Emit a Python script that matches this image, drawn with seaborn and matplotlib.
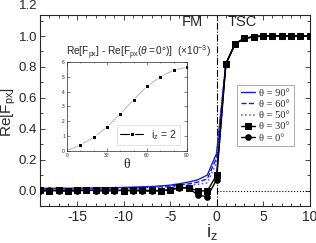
import numpy as np
import pandas as pd
import matplotlib
matplotlib.use("Agg")
import matplotlib.pyplot as plt
import seaborn as sns
from matplotlib.ticker import MultipleLocator

# ---------------- data ----------------
iz = list(range(-19, 11))
theta_labels = ["θ = 90°", "θ = 60°", "θ = 50°", "θ = 30°", "θ = 0°"]

tsc_tail = [0.82, 0.95, 0.985, 0.995, 1.0, 1.0, 1.0, 1.0, 1.0, 1.0]  # i_z = 1..10

re_90 = [0.014, 0.014, 0.015, 0.015, 0.016, 0.016, 0.017, 0.018, 0.019, 0.020,
         0.022, 0.024, 0.026, 0.030, 0.035, 0.044, 0.055, 0.070, 0.100, 0.24] + tsc_tail
re_60 = [0.010, 0.010, 0.011, 0.011, 0.012, 0.012, 0.013, 0.014, 0.015, 0.016,
         0.018, 0.020, 0.022, 0.025, 0.029, 0.035, 0.043, 0.055, 0.075, 0.21] + tsc_tail
re_50 = [0.008, 0.008, 0.009, 0.009, 0.010, 0.010, 0.011, 0.012, 0.013, 0.014,
         0.015, 0.016, 0.018, 0.021, 0.024, 0.028, 0.033, 0.040, 0.050, 0.18] + tsc_tail
re_30 = [0.002, 0.000, 0.002, -0.001, 0.001, 0.003, 0.001, 0.004, 0.002, 0.000,
         0.003, 0.002, 0.001, 0.000, 0.005, 0.020, 0.018, -0.002, -0.003, 0.10] + tsc_tail
re_0 = [-0.002, 0.001, -0.003, -0.004, -0.002, 0.002, 0.000, -0.004, -0.001, 0.002,
        -0.003, -0.002, -0.005, -0.001, 0.003, 0.018, 0.016, -0.030, -0.040, 0.07] + tsc_tail

inset_theta = [0, 10, 20, 30, 40, 50, 60, 70, 80, 90]
inset_diff = [0.0, 0.40, 0.90, 1.60, 2.50, 3.45, 4.35, 5.00, 5.45, 5.65]

x_ticks = [-15, -10, -5, 0, 5, 10]
y_ticks = [0.0, 0.2, 0.4, 0.6, 0.8, 1.0]
inset_xticks = [0, 30, 60, 90]
inset_yticks = [0, 1, 2, 3, 4, 5, 6]

# ---------------- figure ----------------
sns.set_theme(style="ticks")
plt.rcParams["font.family"] = ["Liberation Sans", "DejaVu Sans"]
plt.rcParams["mathtext.fontset"] = "custom"
plt.rcParams["mathtext.rm"] = "Liberation Sans"
plt.rcParams["mathtext.it"] = "Liberation Sans:italic"

W, H = 316, 243
fig = plt.figure(figsize=(W / 100, H / 100), dpi=100)

def frac(x0, y0, x1, y1):
    return [x0 / W, 1 - y1 / H, (x1 - x0) / W, (y1 - y0) / H]

AX_L, AX_T, AX_R, AX_B = 40, 15, 309.5, 206
ax = fig.add_axes(frac(AX_L, AX_T, AX_R, AX_B))

df = pd.DataFrame({
    "iz": iz * 5,
    "val": re_90 + re_60 + re_50 + re_30 + re_0,
    "theta": sum([[t] * len(iz) for t in theta_labels], []),
})

styles = {
    "θ = 90°": dict(color="#1a1ad8", ls="-", marker=None, ms=0, lw=1.0),
    "θ = 60°": dict(color="#1a1ad8", ls="--", marker=None, ms=0, lw=1.0),
    "θ = 50°": dict(color="#4a4aff", ls=":", marker=None, ms=0, lw=1.1),
    "θ = 30°": dict(color="black", ls="-", marker="s", ms=4, lw=1.0),
    "θ = 0°": dict(color="black", ls="-", marker="o", ms=4, lw=1.0),
}
for t in theta_labels:
    s = styles[t]
    sub = df[df["theta"] == t]
    sns.lineplot(data=sub, x="iz", y="val", ax=ax, color=s["color"], linestyle=s["ls"],
                 marker=s["marker"], markersize=s["ms"], linewidth=s["lw"],
                 markeredgecolor="black", label=t, zorder=3 if s["marker"] else 2)

ax.axvline(0, color="black", ls="-.", lw=0.8, zorder=1)
ax.plot([0, 10], [0, 0], color="black", ls=":", lw=0.8, zorder=1)

ax.set_xlim(-19, 10)
ax.set_ylim(-0.1, 1.136)
ax.set_xticks(x_ticks)
ax.set_yticks(y_ticks)
ax.set_xticklabels([str(v) for v in x_ticks], fontsize=10)
ax.set_yticklabels([f"{v:.1f}" for v in y_ticks], fontsize=9.5)
ax.xaxis.set_minor_locator(MultipleLocator(1))
ax.yaxis.set_minor_locator(MultipleLocator(0.1))
ax.tick_params(which="both", direction="in", top=True, right=True, labelright=False,
               labeltop=False, width=0.6)
ax.tick_params(axis="y", pad=2)
ax.tick_params(axis="x", pad=3)
ax.tick_params(which="major", length=3.5)
ax.tick_params(which="minor", length=2)
for sp in ax.spines.values():
    sp.set_linewidth(0.8)
ax.set_xlabel(r"$\mathregular{i_z}$", fontsize=13)
ax.xaxis.set_label_coords((212 - AX_L) / (AX_R - AX_L), -0.085)
ax.set_ylabel(r"$\mathregular{Re[F_{px}]}$", fontsize=11)
ax.yaxis.set_label_coords(-0.081, 0.49)
# top label of the y axis, drawn just above the frame as in the original
ax.text(-0.01, 1.045, "1.2", transform=ax.transAxes, ha="right", va="center", fontsize=9.5,
        color="#262626")

ax.text(-1.45, 1.093, "FM", fontsize=10.5, ha="right", va="center")
ax.text(1.2, 1.093, "TSC", fontsize=10.5, ha="left", va="center")

leg = ax.legend(loc="upper left",
                bbox_to_anchor=((237 - AX_L) / (AX_R - AX_L), (AX_B - 85) / (AX_B - AX_T)),
                borderaxespad=0, frameon=True, fancybox=False, edgecolor="#888888",
                handlelength=1.4, handletextpad=0.4, borderpad=0.35, labelspacing=0.18,
                prop={"family": "Liberation Serif", "size": 7.5})
leg.get_frame().set_linewidth(0.6)

# ---------------- inset ----------------
IL, IT, IR, IB = 67, 62, 187, 150.7
axi = fig.add_axes(frac(IL, IT, IR, IB))
sns.lineplot(x=inset_theta[1:], y=inset_diff[1:], ax=axi, color="black", marker="s",
             markersize=2.2, linewidth=0, label=r"$\mathregular{i_z}$ = 2")
axi.plot(inset_theta, inset_diff, color="#aaaaaa", lw=0.6, zorder=1)
axi.set_xlim(0, 90)
axi.set_ylim(0, 6)
axi.set_xticks(inset_xticks)
axi.set_yticks(inset_yticks)
axi.set_xticklabels([str(v) for v in inset_xticks], fontsize=3.5)
axi.set_yticklabels([str(v) for v in inset_yticks], fontsize=3.5)
axi.xaxis.set_minor_locator(MultipleLocator(10))
axi.tick_params(which="both", direction="in", top=True, right=True, width=0.4, pad=1.5)
axi.tick_params(which="major", length=2)
axi.tick_params(which="minor", length=1)
for sp in axi.spines.values():
    sp.set_linewidth(0.5)
axi.set_xlabel("θ", fontsize=10, family="Liberation Serif", labelpad=0)
axi.set_ylabel("")
axi.set_title(r"$\mathregular{Re[F_{px}]}$ - $\mathregular{Re[F_{px}}$($\theta = 0°$)]  ($\times10^{-3}$)",
              fontsize=7.3, pad=3, loc="left", x=-0.01)
li = axi.legend(loc="lower right", bbox_to_anchor=((180 - IL) / (IR - IL), (IB - 145) / (IB - IT)),
                borderaxespad=0, fontsize=7.5, frameon=True, fancybox=False,
                edgecolor="#cccccc", handlelength=2.2, borderpad=0.3)
li.get_frame().set_linewidth(0.5)
for h in li.legend_handles:
    h.set_linewidth(0.8)

fig.savefig("out.png", dpi=100)
